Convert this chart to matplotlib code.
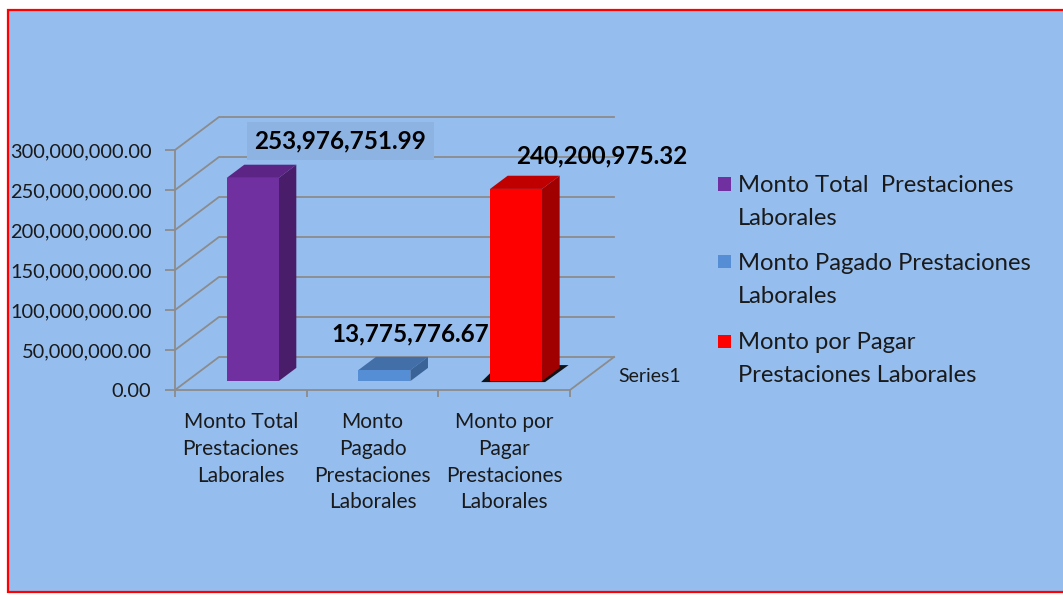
import numpy as np
import matplotlib.pyplot as plt
from matplotlib.patches import Polygon, Rectangle

plt.rcParams["font.family"] = ["Lato", "DejaVu Sans"]

# data
categories = ["Monto Total\nPrestaciones\nLaborales",
              "Monto\nPagado\nPrestaciones\nLaborales",
              "Monto por\nPagar\nPrestaciones\nLaborales"]
legend_labels = ["Monto Total  Prestaciones\nLaborales",
                 "Monto Pagado Prestaciones\nLaborales",
                 "Monto por Pagar\nPrestaciones Laborales"]
values = [253976751.99, 13775776.67, 240200975.32]
yticks = [0, 50e6, 100e6, 150e6, 200e6, 250e6, 300e6]
series_name = "Series1"

front_colors = ["#7030A0", "#558ED5", "#FF0000"]
top_colors = ["#5B2485", "#426FA8", "#C00000"]
side_colors = ["#4A1D6A", "#3A6398", "#A00000"]
bg = "#95BDEE"
grid_c = "#8C8C8C"

W, H = 1063, 595
fig = plt.figure(figsize=(W / 100, H / 100), dpi=100)
fig.patch.set_facecolor("white")
fig.patches.append(Rectangle((8 / W, 3 / H), 1.1, (592 - 10) / H, transform=fig.transFigure,
                             facecolor=bg, edgecolor="#FF0000", lw=1.6, zorder=-10))

# axes = front plane of the 3d box
ax = fig.add_axes([175 / W, (H - 390) / H, (570 - 175) / W, 240 / H])
ax.set_facecolor("none")
ax.set_xlim(0, 3)
ax.set_ylim(0, 300e6)

# depth offsets in data units
dx = 44 / (395 / 3)
dy = 33 / 240 * 300e6

for s in ["top", "right"]:
    ax.spines[s].set_visible(False)
for s in ["left", "bottom"]:
    ax.spines[s].set_color(grid_c)
    ax.spines[s].set_linewidth(1.3)

# back wall grid
for v in yticks:
    ax.plot([0, dx, 3 + dx], [v, v + dy, v + dy], color=grid_c, lw=1.3, clip_on=False, zorder=1)
ax.plot([3, 3 + dx], [0, dy], color=grid_c, lw=1.3, clip_on=False, zorder=1)

ax.set_yticks(yticks)
ax.set_yticklabels([f"{v:,.2f}" for v in yticks])
ax.tick_params(axis="y", direction="out", length=7, width=1.3, color=grid_c,
               labelsize=14.4, pad=10, labelcolor="#1a1a1a")
ax.set_xticks([0, 1, 2, 3])
ax.set_xticklabels([])
ax.tick_params(axis="x", which="major", direction="out", length=5, width=1.3, color=grid_c)
ax.set_xticks([0.5, 1.5, 2.5], minor=True)
ax.set_xticklabels(categories, minor=True, fontsize=15, linespacing=1.42, color="#1a1a1a")
ax.tick_params(axis="x", which="minor", length=0, pad=16)

# bars
f0, f1 = 0.27, 0.67
bw = 52 / (395 / 3)
ddx, ddy = (f1 - f0) * dx, (f1 - f0) * dy
xs = np.arange(len(values)) + 0.5 + f0 * dx
base = f0 * dy
for i, (x, v) in enumerate(zip(xs, values)):
    xl, xr = x - bw / 2, x + bw / 2
    if i == 2:
        # shadow under the red bar
        ax.add_patch(Polygon([(xl - 0.068, base - 1.25e6), (xr + 0.023, base - 1.25e6),
                              (xr + ddx + 0.068, base + ddy + 3.5e6),
                              (xl + ddx - 0.07, base + ddy + 3.5e6)],
                             closed=True, facecolor="black", alpha=0.9, clip_on=False, zorder=2))
    ax.bar(x, v, width=bw, bottom=base, color=front_colors[i], zorder=4, clip_on=False)
    ax.add_patch(Polygon([(xl, base + v), (xr, base + v), (xr + ddx, base + v + ddy),
                          (xl + ddx, base + v + ddy)], closed=True,
                         facecolor=top_colors[i], clip_on=False, zorder=3))
    ax.add_patch(Polygon([(xr, base), (xr, base + v), (xr + ddx, base + v + ddy),
                          (xr + ddx, base + ddy)], closed=True,
                         facecolor=side_colors[i], clip_on=False, zorder=3))

# value labels
label_offsets = [(79, 24), (17, 23), (77, 20)]
for i, (x, v) in enumerate(zip(xs, values)):
    kw = {}
    if i == 0:
        kw["bbox"] = dict(boxstyle="square,pad=0.3", facecolor="#8DB3E3", edgecolor="none")
    ax.annotate(f"{v:,.2f}", (x + ddx / 2, base + v + ddy), xytext=label_offsets[i],
                textcoords="offset pixels", ha="center", va="center", fontsize=17.5,
                fontweight="bold", color="black", annotation_clip=False, zorder=6, **kw)

ax.text(3 + dx + 0.03, 17.5e6, series_name, fontsize=14, va="center", ha="left",
        color="#1a1a1a", clip_on=False)

# legend
ly = [184, 262, 341]
for c, lab, y in zip(front_colors, legend_labels, ly):
    fig.patches.append(Rectangle((718 / W, (H - y - 6.5) / H), 13 / W, 13 / H,
                                 transform=fig.transFigure, facecolor=c, edgecolor="none"))
    for k, line in enumerate(lab.split("\n")):
        fig.text(738 / W, (H - y - 8 - 33 * k) / H, line, fontsize=17.2, va="baseline",
                 ha="left", color="#1a1a1a", transform=fig.transFigure)

fig.savefig("out.png", dpi=100)
